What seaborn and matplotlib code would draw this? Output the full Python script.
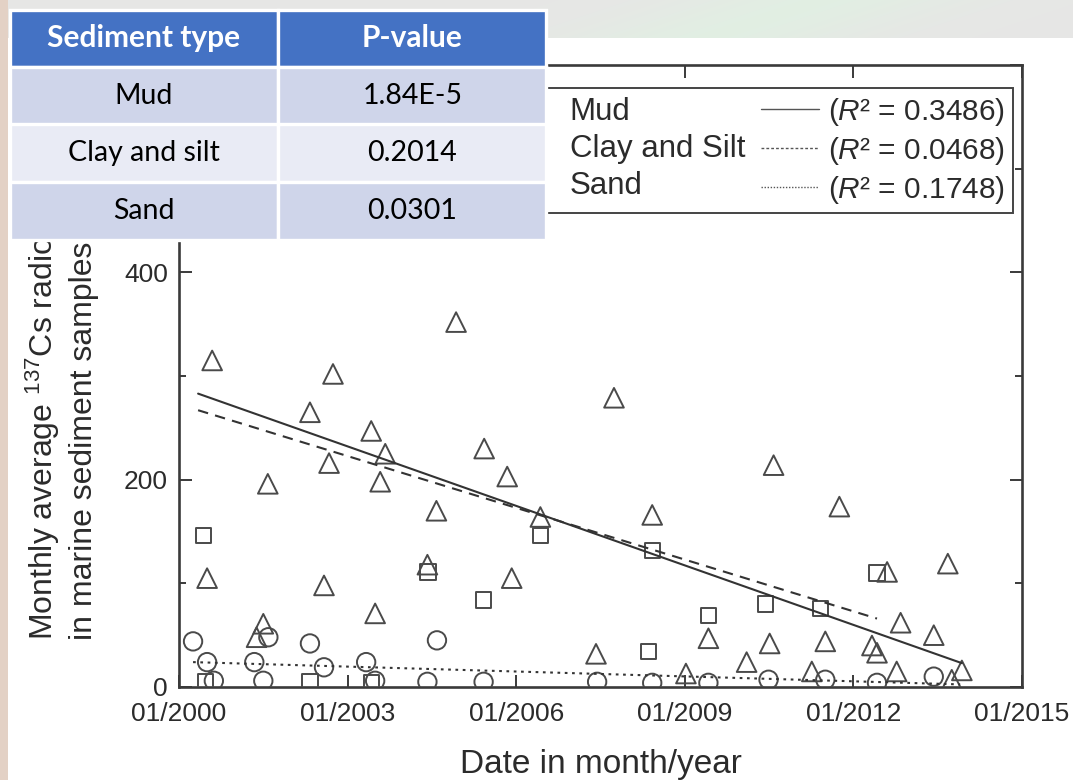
import numpy as np
import matplotlib
matplotlib.use("Agg")
import matplotlib.pyplot as plt
import seaborn as sns
from matplotlib.lines import Line2D
from matplotlib.ticker import MultipleLocator

# ---- data -------------------------------------------------------------
sediment_types = ["Mud", "Clay and Silt", "Sand"]
r_squared = ["0.3486", "0.0468", "0.1748"]

table_types = ["Mud", "Clay and silt", "Sand"]
p_values = ["1.84E-5", "0.2014", "0.0301"]
table_header = ["Sediment type", "P-value"]

# decimal year of sampling month, monthly average 137Cs (Bq/kg)
mud_year = [2000.59, 2000.50, 2001.58, 2001.50, 2001.38, 2002.33, 2002.74, 2002.67,
            2002.58, 2003.42, 2003.67, 2003.58, 2003.49, 2004.93, 2004.58, 2004.42,
            2005.43, 2005.84, 2005.92, 2006.43, 2007.74, 2007.42, 2008.42, 2009.02,
            2009.42, 2010.10, 2010.51, 2010.58, 2011.26, 2011.50, 2011.75, 2012.33,
            2012.42, 2012.60, 2012.77, 2012.84, 2013.43, 2013.68, 2013.75, 2013.93]
mud_value = [315, 105, 196, 61, 48, 265, 302, 216,
             98, 247, 225, 198, 71, 352, 170, 118,
             230, 203, 105, 164, 279, 32, 166, 13,
             47, 24, 42, 214, 15, 44, 174, 40,
             33, 111, 15, 62, 50, 119, 7, 16]

clay_year = [2000.43, 2000.47, 2002.33, 2003.42, 2004.43, 2005.42, 2006.43, 2008.36,
             2008.42, 2009.42, 2010.43, 2011.41, 2012.42]
clay_value = [146, 5, 5, 4, 111, 84, 146, 34,
              132, 69, 80, 76, 110]

sand_year = [2000.25, 2000.50, 2000.62, 2001.34, 2001.59, 2001.50, 2002.33, 2002.58,
             2003.33, 2003.49, 2004.42, 2004.59, 2005.42, 2007.44, 2008.42, 2009.42,
             2010.49, 2011.50, 2012.42, 2013.43]
sand_value = [44, 24, 6, 24, 48, 6, 42, 19,
              24, 6, 5, 45, 5, 5, 4, 4,
              7, 7, 4, 10]

# linear trend lines (start / end of each fitted segment)
fit_year_start = [2000.34, 2000.34, 2000.25]
fit_year_end = [2013.93, 2012.42, 2013.90]
fit_value_start = [283, 267, 24]
fit_value_end = [23, 66, 2.5]

x_ticks = [2000, 2003, 2006, 2009, 2012, 2015]
x_tick_labels = ["01/2000", "01/2003", "01/2006", "01/2009", "01/2012", "01/2015"]
y_ticks = [0, 200, 400, 600]

# ---- style ------------------------------------------------------------
sns.set_style("ticks")
plt.rcParams["font.family"] = ["Liberation Sans", "DejaVu Sans"]
plt.rcParams["mathtext.fontset"] = "custom"
plt.rcParams["mathtext.rm"] = "Liberation Sans"
plt.rcParams["mathtext.it"] = "Liberation Sans:italic"

INK = "#2b2b2b"
MARK = "#4a4a4a"

W, H = 1073, 780
fig = plt.figure(figsize=(W / 100, H / 100), dpi=100)
fig.patch.set_facecolor("white")

# slide backdrop: soft grey/green band on top, beige strip on the left
bg = fig.add_axes([0, 0, 1, 1], zorder=-10)
bg.set_xlim(0, W)
bg.set_ylim(H, 0)
bg.axis("off")
band_h = 38
yy, xx = np.mgrid[0:band_h, 0:W]
glow = np.exp(-((xx - 820 + 3.0 * yy) / 140.0) ** 2)
band = np.zeros((band_h, W, 3))
band[..., 0] = 0.905 - 0.02 * glow
band[..., 1] = 0.905 + 0.03 * glow
band[..., 2] = 0.900 - 0.01 * glow
bg.imshow(band, extent=[0, W, band_h, 0], aspect="auto", interpolation="bilinear")
bg.add_patch(plt.Rectangle((0, 0), 8, H, color="#e3d1c5", lw=0))

# ---- main chart -------------------------------------------------------
ax = fig.add_axes([179 / W, 1 - 687 / H, 843 / W, 622 / H])

sns.scatterplot(x=mud_year, y=mud_value, marker="^", s=200, facecolor="none",
                edgecolor=MARK, linewidth=1.4, ax=ax, zorder=3, legend=False)
sns.scatterplot(x=clay_year, y=clay_value, marker="s", s=120, facecolor="none",
                edgecolor=MARK, linewidth=1.4, ax=ax, zorder=3, legend=False)
sns.scatterplot(x=sand_year, y=sand_value, marker="o", s=175, facecolor="none",
                edgecolor=MARK, linewidth=1.4, ax=ax, zorder=3, legend=False)

line_styles = ["-", (0, (5, 3.5)), (0, (1.3, 2.2))]
for i in range(3):
    sns.lineplot(x=[fit_year_start[i], fit_year_end[i]],
                 y=[fit_value_start[i], fit_value_end[i]],
                 ax=ax, color="#333333", linewidth=1.5, linestyle=line_styles[i],
                 legend=False, zorder=4)

ax.set_xlim(2000, 2015)
ax.set_ylim(0, 600)
ax.set_xticks(x_ticks)
ax.set_xticklabels(x_tick_labels)
ax.set_yticks(y_ticks)
ax.yaxis.set_minor_locator(MultipleLocator(100))
ax.tick_params(axis="both", which="major", direction="in", length=9, width=1.4,
               top=True, right=True, labelsize=19, colors="#3a3a3a",
               labelcolor=INK, pad=8)
ax.tick_params(axis="x", which="major", pad=11)
ax.tick_params(axis="y", which="minor", direction="in", length=5, width=1.4,
               left=True, right=True, colors="#3a3a3a")
ax.tick_params(axis="x", which="minor", bottom=False, top=False)
for sp in ax.spines.values():
    sp.set_color("#3a3a3a")
    sp.set_linewidth(1.9)
    sp.set_visible(True)

ax.set_xlabel("Date in month/year", fontsize=24, color=INK, labelpad=16)
fig.text(85 / W, 1 - 640 / H,
         "Monthly average $^{137}$Cs radioactivity\nin marine sediment samples (Bq/kg)",
         rotation=90, rotation_mode="anchor", ha="left", va="baseline",
         fontsize=23, color=INK, linespacing=1.32)

# legend: marker + name, then trend line + R^2
handles = [
    Line2D([], [], marker="^", ls="none", mfc="none", mec=MARK, ms=13, mew=1.4),
    Line2D([], [], marker="s", ls="none", mfc="none", mec=MARK, ms=11, mew=1.4),
    Line2D([], [], marker="o", ls="none", mfc="none", mec=MARK, ms=13, mew=1.4),
    Line2D([], [], color="#555555", lw=1.0, ls=line_styles[0]),
    Line2D([], [], color="#555555", lw=1.0, ls=(0, (2, 1.5))),
    Line2D([], [], color="#555555", lw=1.0, ls=(0, (1, 1.2))),
]
labels = sediment_types + [f"($R$\u00b2 = {r})" for r in r_squared]
leg = ax.legend(handles, labels, ncol=2, loc="upper right",
                bbox_to_anchor=((1013 - 179) / 843, (687 - 88) / 622),
                borderaxespad=0, frameon=True, fancybox=False, framealpha=1,
                edgecolor="#444444", fontsize=22.5, handlelength=1.85,
                handletextpad=0.3, columnspacing=0.5, labelspacing=0.22,
                borderpad=0.25)
leg.get_frame().set_linewidth(1.4)
for i, t in enumerate(leg.get_texts()):
    t.set_color(INK)
    if i >= 3:
        t.set_fontsize(21.5)

# ---- p-value table ----------------------------------------------------
tax = fig.add_axes([9.5 / W, 1 - 239.5 / H, 537 / W, 230 / H], zorder=5)
tax.axis("off")
tbl = tax.table(cellText=[[t, p] for t, p in zip(table_types, p_values)],
                colLabels=table_header, cellLoc="center", bbox=[0, 0, 1, 1])
tbl.auto_set_font_size(False)
row_colors = ["#cfd5ea", "#e9ebf5", "#cfd5ea"]
for (r, c), cell in tbl.get_celld().items():
    cell.set_edgecolor("white")
    cell.set_linewidth(2.4)
    txt = cell.get_text()
    txt.set_fontfamily(["Lato", "DejaVu Sans"])
    if r == 0:
        cell.set_facecolor("#4472c4")
        txt.set_color("white")
        txt.set_fontweight("bold")
        txt.set_fontsize(21.5)
    else:
        cell.set_facecolor(row_colors[r - 1])
        txt.set_color("black")
        txt.set_fontsize(20.5)

fig.savefig("out.png", dpi=100)
